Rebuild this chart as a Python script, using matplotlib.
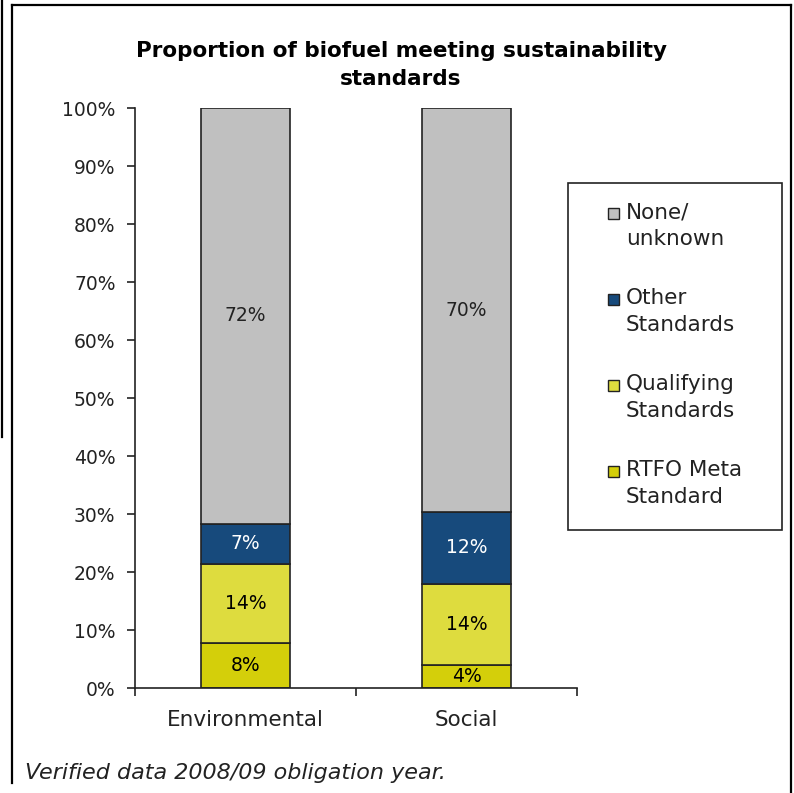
import matplotlib
matplotlib.use('Agg')
import matplotlib.pyplot as plt
from matplotlib.lines import Line2D
from matplotlib.patches import Rectangle
import numpy as np

# data (percent of biofuel)
categories = ['Environmental', 'Social']
rtfo_meta = [7.8, 4.0]
qualifying = [13.6, 14.0]
other_std = [6.9, 12.3]
none_unknown = [71.7, 69.7]

series_names = ['RTFO Meta\nStandard', 'Qualifying\nStandards', 'Other\nStandards', 'None/\nunknown']
series_values = [rtfo_meta, qualifying, other_std, none_unknown]
series_colors = ['#d4cf0a', '#dedc3e', '#174a7c', '#c0c0c0']
label_colors = ['black', 'black', 'white', '#222222']

W, H = 794, 793
fig = plt.figure(figsize=(W / 100, H / 100), dpi=100)

def fx(px):
    return px / W

def fy(py):
    return 1 - py / H

# plot area in pixels: x 135..577, y 108..688
ax = fig.add_axes([fx(135), fy(688), fx(577 - 135), (688 - 108) / H])

x = np.arange(len(categories))
bottom = np.zeros(len(categories))
for vals, col, lcol in zip(series_values, series_colors, label_colors):
    vals = np.array(vals)
    ax.bar(x, vals, 0.4, bottom=bottom, color=col, edgecolor='#222222', linewidth=1.2)
    for xi, b, v in zip(x, bottom, vals):
        ax.text(xi, b + v / 2, '%d%%' % int(v + 0.5), ha='center', va='center',
                fontsize=13.5, color=lcol)
    bottom = bottom + vals

ax.set_xlim(-0.5, 1.5)
ax.set_ylim(0, 100)
ax.set_yticks(np.arange(0, 101, 10))
ax.set_yticklabels(['%d%%' % v for v in range(0, 101, 10)])
ax.tick_params(axis='y', direction='out', length=6, width=1.2, pad=8, labelsize=13.5, colors='#222222')

# category boundaries as ticks, names on minor ticks
ax.set_xticks([-0.5, 0.5, 1.5])
ax.set_xticklabels([])
ax.set_xticks(x, minor=True)
ax.set_xticklabels(categories, minor=True)
ax.tick_params(axis='x', which='major', direction='out', length=6, width=1.2, colors='#222222')
ax.tick_params(axis='x', which='minor', length=0, pad=16, labelsize=15.5, colors='#222222')

for s in ['top', 'right']:
    ax.spines[s].set_visible(False)
for s in ['left', 'bottom']:
    ax.spines[s].set_color('#222222')
    ax.spines[s].set_linewidth(1.2)

# title
fig.text(fx(401), fy(65), 'Proportion of biofuel meeting sustainability\nstandards',
         ha='center', va='center', fontsize=15.5, fontweight='bold', linespacing=1.55)

# legend box
fig.add_artist(Rectangle((fx(568), fy(530)), fx(782 - 568), (530 - 183) / H,
                         transform=fig.transFigure, fill=False, edgecolor='#222222', linewidth=1.2))
# legend entries, top to bottom (reverse of stacking)
for i, (name, col) in enumerate(zip(series_names[::-1], series_colors[::-1])):
    y0 = 213 + i * 86
    fig.add_artist(Rectangle((fx(608), fy(y0 + 6)), fx(11), 11 / H, transform=fig.transFigure,
                             facecolor=col, edgecolor='#222222', linewidth=1))
    fig.text(fx(626), fy(y0 - 11), name, ha='left', va='top', fontsize=15.5,
             linespacing=1.45, color='#222222')

# footnote
fig.text(fx(25), fy(773), 'Verified data 2008/09 obligation year.', ha='left', va='center',
         fontsize=16, style='italic', color='#222222')

# page frame lines
frame = [([2, 2], [0, 437]), ([12, 12], [5, 783]), ([12, 791], [5, 5]), ([791, 791], [5, 793])]
for xs, ys in frame:
    fig.add_artist(Line2D([fx(v) for v in xs], [fy(v) for v in ys], transform=fig.transFigure,
                          color='black', linewidth=1.6))

plt.savefig('out.png', dpi=100)
